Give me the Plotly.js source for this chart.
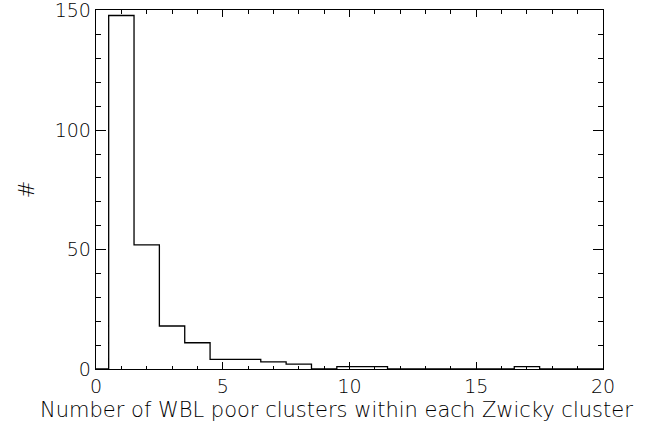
<!DOCTYPE html>
<html>
<head>
<meta charset="utf-8">
<script src="https://cdn.plot.ly/plotly-3.0.1.min.js"></script>
<style>html,body{margin:0;padding:0;background:#fff}#chart{width:665px;height:429px}</style>
</head>
<body>
<div id="chart"></div>
<script>
// Bin centres (number of WBL poor clusters) and counts
const binCenters = [0,1,2,3,4,5,6,7,8,9,10,11,12,13,14,15,16,17,18,19,20];
const counts     = [0,148,52,18,11,4,4,3,2,0,1,1,0,0,0,0,0,1,0,0,0];
const xTickVals = [0,5,10,15,20];
const yTickVals = [0,50,100,150];
const xTitle = 'Number of WBL poor clusters within each Zwicky cluster';
const yTitle = '#';

const trace = {
  x: binCenters, y: counts, type: 'scatter', mode: 'lines',
  line: {shape: 'hvh', color: '#000', width: 1.3},
  hoverinfo: 'skip', showlegend: false
};
const font = {family: 'DejaVu Sans', size: 19, color: '#000', weight: 200};
const titleFont = {family: 'DejaVu Sans', size: 21, color: '#000', weight: 200};
const layout = {
  width: 665, height: 429,
  margin: {l: 96, r: 62, t: 10, b: 60},
  paper_bgcolor: '#fff', plot_bgcolor: '#fff',
  font: font,
  xaxis: {
    range: [0, 20], tickvals: xTickVals, ticks: 'inside', ticklen: 7, tickwidth: 1,
    tickcolor: '#000', showline: true, linecolor: '#000', linewidth: 1.3, mirror: 'ticks',
    showgrid: false, zeroline: false, ticklabeloverflow: 'allow',
    minor: {dtick: 1, ticks: 'inside', ticklen: 3.5, tickcolor: '#000', tickwidth: 1, showgrid: false},
    tickfont: font
  },
  yaxis: {
    range: [0, 150.3], tickvals: yTickVals, ticks: 'inside', ticklen: 10, tickwidth: 1,
    tickcolor: '#000', showline: true, linecolor: '#000', linewidth: 1.3, mirror: 'ticks',
    showgrid: false, zeroline: false, ticklabeloverflow: 'allow',
    minor: {dtick: 10, ticks: 'inside', ticklen: 5, tickcolor: '#000', tickwidth: 1, showgrid: false},
    tickfont: font,
    title: {text: yTitle, font: titleFont, standoff: 14}
  },
  annotations: [{
    text: xTitle, xref: 'paper', yref: 'paper', x: 0.474, y: -0.114,
    xanchor: 'center', yanchor: 'middle', showarrow: false, font: titleFont
  }]
};
Plotly.newPlot('chart', [trace], layout, {displayModeBar: false, staticPlot: true});
</script>
</body>
</html>
